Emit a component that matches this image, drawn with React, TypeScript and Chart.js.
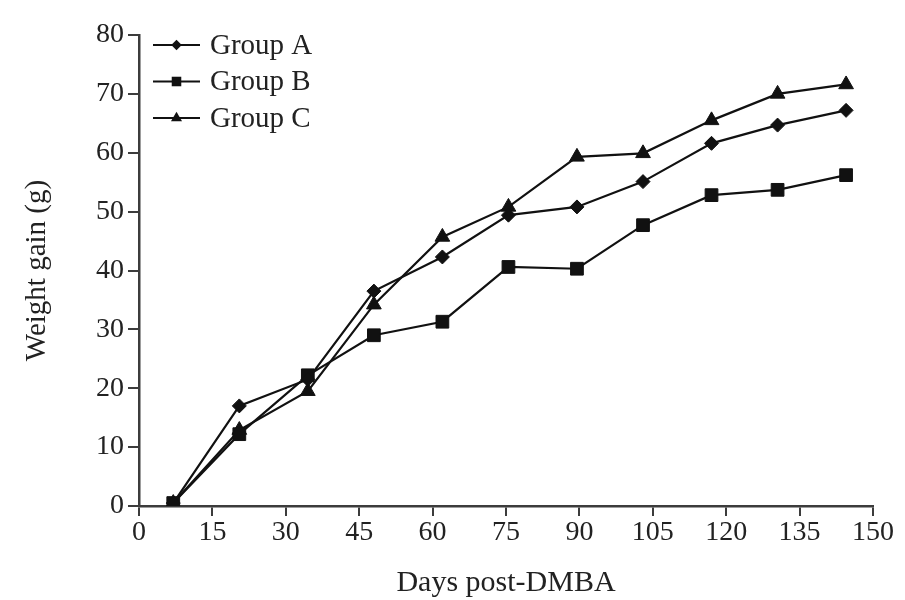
import React, { useEffect, useRef } from "react";
import { Chart, registerables } from "chart.js";

Chart.register(...registerables);

const days = [7, 20.5, 34.5, 48, 62, 75.5, 89.5, 103, 117, 130.5, 144.5];
const groupA = [0.5, 17.0, 21.5, 36.5, 42.3, 49.4, 50.8, 55.1, 61.6, 64.7, 67.2];
const groupB = [0.5, 12.2, 22.2, 29.0, 31.3, 40.6, 40.3, 47.7, 52.8, 53.7, 56.2];
const groupC = [0.5, 12.9, 19.5, 34.2, 45.7, 50.8, 59.3, 59.9, 65.5, 70.0, 71.6];
const seriesNames = ["Group A", "Group B", "Group C"];
const xTicks = [0, 15, 30, 45, 60, 75, 90, 105, 120, 135, 150];
const yTicks = [0, 10, 20, 30, 40, 50, 60, 70, 80];

const FONT = "'Liberation Serif', 'Times New Roman', serif";
const TEXT = "#222222";
const AXIS = "#3c3c3c";

function drawMarker(ctx: CanvasRenderingContext2D, style: string, x: number, y: number, r: number) {
  ctx.beginPath();
  if (style === "rectRot") {
    ctx.moveTo(x, y - r);
    ctx.lineTo(x + r, y);
    ctx.lineTo(x, y + r);
    ctx.lineTo(x - r, y);
  } else if (style === "rect") {
    const s = r * Math.SQRT1_2;
    ctx.rect(x - s, y - s, 2 * s, 2 * s);
  } else {
    const h = r;
    ctx.moveTo(x, y - h);
    ctx.lineTo(x + h * 0.866, y + h * 0.5);
    ctx.lineTo(x - h * 0.866, y + h * 0.5);
  }
  ctx.closePath();
  ctx.fill();
}

const legendPlugin = {
  id: "inlineLegend",
  afterDraw(chart: any) {
    const ctx = chart.ctx as CanvasRenderingContext2D;
    const area = chart.chartArea;
    const x0 = area.left + 14;
    const lineLen = 47;
    const y0 = area.top + 10;
    const gap = 36.5;
    ctx.save();
    chart.data.datasets.forEach((ds: any, i: number) => {
      const y = y0 + i * gap;
      ctx.strokeStyle = "#111";
      ctx.lineWidth = 2;
      ctx.beginPath();
      ctx.moveTo(x0, y);
      ctx.lineTo(x0 + lineLen, y);
      ctx.stroke();
      ctx.fillStyle = "#111";
      drawMarker(ctx, ds.pointStyle, x0 + lineLen / 2, y, ds.pointRadius * 0.75);
      ctx.fillStyle = TEXT;
      ctx.font = `29px ${FONT}`;
      ctx.textAlign = "left";
      ctx.textBaseline = "middle";
      ctx.fillText(ds.label, x0 + lineLen + 10, y + 1);
    });
    ctx.restore();
  },
};

export default function App() {
  const ref = useRef<HTMLCanvasElement>(null);
  useEffect(() => {
    if (!ref.current) return;
    const mk = (vals: number[]) => vals.map((v, i) => ({ x: days[i], y: v }));
    const styles = ["rectRot", "rect", "triangle"];
    const radii = [7, 9, 8.5];
    const data = [groupA, groupB, groupC];
    const chart = new Chart(ref.current, {
      type: "line",
      data: {
        datasets: seriesNames.map((name, i) => ({
          label: name,
          data: mk(data[i]),
          borderColor: "#111",
          backgroundColor: "#111",
          borderWidth: 2.2,
          pointStyle: styles[i],
          pointRadius: radii[i],
          pointBackgroundColor: "#111",
          pointBorderColor: "#111",
          pointBorderWidth: 1,
          tension: 0,
        })) as any,
      },
      options: {
        responsive: false,
        animation: false,
        devicePixelRatio: 1,
        layout: { padding: { left: 0, right: 32, top: 35, bottom: 0 } },
        plugins: { legend: { display: false }, tooltip: { enabled: false } },
        scales: {
          x: {
            type: "linear",
            min: 0,
            max: 150,
            afterFit: (s: any) => { s.height = 94; },
            afterBuildTicks: (s: any) => { s.ticks = xTicks.map((v) => ({ value: v })); },
            grid: { drawOnChartArea: false, drawTicks: true, tickLength: 10, color: AXIS, lineWidth: 2 },
            border: { display: true, color: AXIS, width: 2.5 },
            ticks: { color: TEXT, font: { family: FONT, size: 28 }, padding: 0, maxRotation: 0, autoSkip: false },
            title: { display: true, text: "Days post-DMBA", color: TEXT, font: { family: FONT, size: 30, lineHeight: 1.1 }, padding: { top: 0, bottom: 0 } },
          },
          y: {
            type: "linear",
            min: 0,
            max: 80,
            afterFit: (s: any) => { s.width = 139; },
            afterBuildTicks: (s: any) => { s.ticks = yTicks.map((v) => ({ value: v })); },
            grid: { drawOnChartArea: false, drawTicks: true, tickLength: 11, color: AXIS, lineWidth: 2 },
            border: { display: true, color: AXIS, width: 2.5 },
            ticks: { color: TEXT, font: { family: FONT, size: 28 }, padding: 4, autoSkip: false },
            title: { display: true, text: "Weight gain (g)", color: TEXT, font: { family: FONT, size: 29, lineHeight: 1.2 }, padding: { top: 20, bottom: 0 } },
          },
        },
      },
      plugins: [legendPlugin],
    });
    return () => chart.destroy();
  }, []);
  return (
    <div style={{ position: "absolute", left: 0, top: 0, width: 905, height: 600, background: "#fff" }}>
      <canvas ref={ref} width={905} height={600} style={{ width: 905, height: 600, display: "block" }} />
    </div>
  );
}
